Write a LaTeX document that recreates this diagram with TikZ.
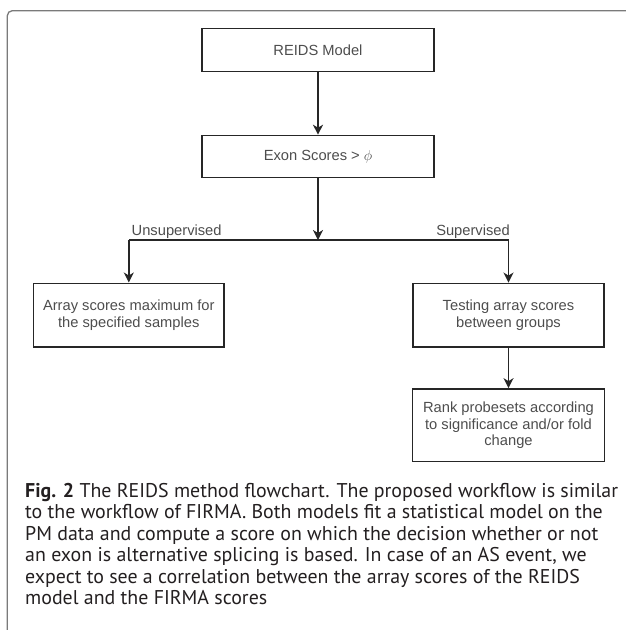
\documentclass[tikz,border=0pt]{standalone}
\usepackage{fontspec}
\setmainfont{Liberation Sans}
\newfontfamily\capfont{PT Sans}
\usetikzlibrary{arrows.meta,positioning}
\definecolor{boxline}{HTML}{262626}
\definecolor{boxtext}{HTML}{4D4D4D}
\definecolor{framegray}{HTML}{7A7A7A}
\definecolor{captext}{HTML}{231F20}

\begin{document}
\begin{tikzpicture}[x=1pt,y=-1pt,
    flowbox/.style={draw=boxline,line width=1.6pt,text=boxtext,align=center,
        font=\fontsize{14.7}{17}\selectfont,inner sep=0pt},
    flowarrow/.style={draw=boxline,line width=1.6pt,
        -{Stealth[length=10pt,width=10pt,inset=3pt]}},
    branchlabel/.style={text=boxtext,font=\fontsize{14.7}{17}\selectfont,inner sep=0pt}]
    \useasboundingbox (0,0) rectangle (625,630);
    % open frame round the figure
    \draw[framegray,line width=1.3pt,rounded corners=5pt]
        (7.3,632) -- (7.3,10.7) -- (627,10.7);

    \node[flowbox,minimum width=232pt,minimum height=43pt] (reids) at (318,50) {REIDS Model};
    \node[flowbox,minimum width=232pt,minimum height=42pt] (exon) at (318,156.5) {Exon Scores > $\phi$};
    \node[flowbox,minimum width=190.5pt,minimum height=63.4pt] (unsup) at (128.8,315)
        {Array scores maximum for\\the specified samples};
    \node[flowbox,minimum width=191.3pt,minimum height=63.7pt] (sup) at (508.5,315.2)
        {Testing array scores\\between groups};
    \node[flowbox,minimum width=191.8pt,minimum height=72.7pt,
        font=\fontsize{14.7}{16.5}\selectfont] (rank) at (508.5,425.3)
        {Rank probesets according\\to significance and/or fold\\change};

    % branching
    \coordinate (split) at (318,240);
    \coordinate (lsplit) at (unsup.north |- split);
    \coordinate (rsplit) at (sup.north |- split);
    \node[branchlabel,anchor=base west] (unsuplabel) at (131.5,235) {Unsupervised};
    \node[branchlabel,anchor=base east] (suplabel) at (510,235) {Supervised};

    \draw[flowarrow] (reids) -- (exon);
    \draw[flowarrow] (exon) -- (split);
    \draw[boxline,line width=1.6pt] (lsplit) -- (rsplit);
    \draw[flowarrow] (lsplit) -- (unsup);
    \draw[flowarrow] (rsplit) -- (sup);
    \draw[flowarrow] (sup) -- (rank);

    % caption
    \node[anchor=north west,inner sep=0pt,align=left,text=captext,
        font=\capfont\fontsize{19.9}{21.5}\selectfont] (caption) at (25,483)
        {\textbf{Fig. 2} The REIDS method flowchart. The proposed workflow is similar\\
         to the workflow of FIRMA. Both models fit a statistical model on the\\
         PM data and compute a score on which the decision whether or not\\
         an exon is alternative splicing is based. In case of an AS event, we\\
         expect to see a correlation between the array scores of the REIDS\\
         model and the FIRMA scores};
\end{tikzpicture}
\end{document}
